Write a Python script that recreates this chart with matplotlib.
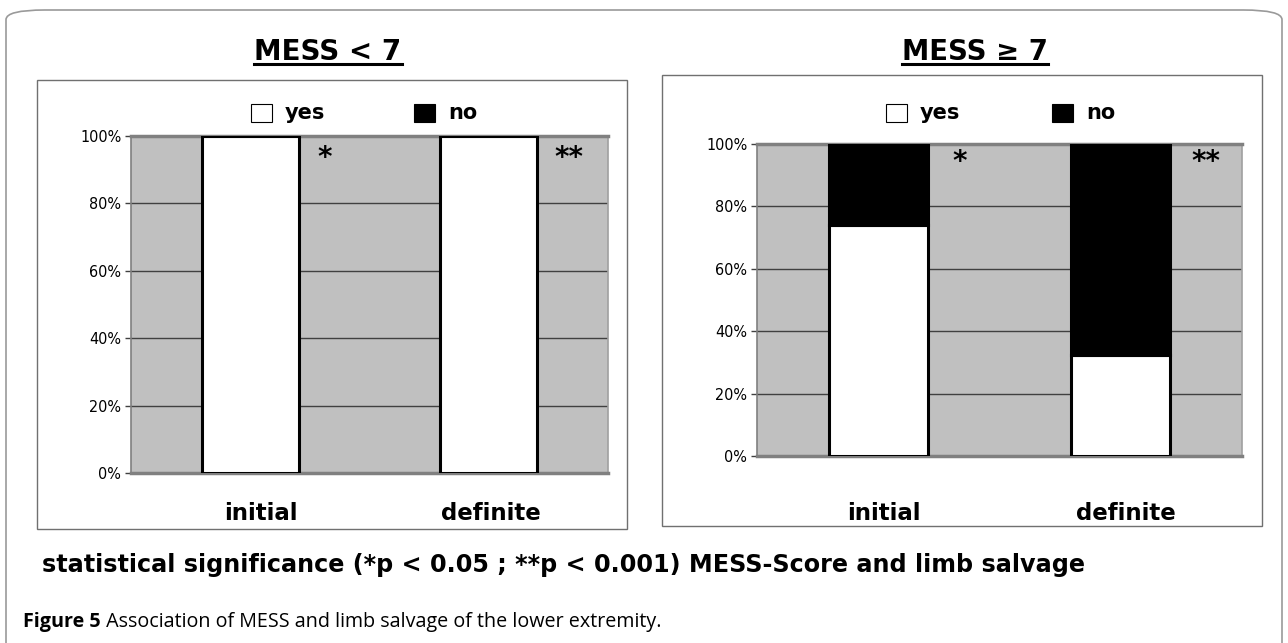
import matplotlib
matplotlib.use("Agg")
import matplotlib.pyplot as plt
from matplotlib.patches import Rectangle, FancyBboxPatch
from matplotlib import font_manager, transforms
import numpy as np

# ---------------- data ----------------
categories = ["initial", "definite"]
yes_low = [100, 100]      # MESS < 7
no_low = [0, 0]
yes_high = [74, 32.5]     # MESS >= 7
no_high = [26, 67.5]
stars = ["*", "**"]
ytick_vals = [0, 20, 40, 60, 80, 100]
ytick_labels = ["0%", "20%", "40%", "60%", "80%", "100%"]
titles = ["MESS < 7", "MESS \u2265 7"]
legend_labels = ["yes", "no"]
legend_colors = ["white", "black"]
stat_text = "statistical significance (*p < 0.05 ; **p < 0.001) MESS-Score and limb salvage"
caption_bold = "Figure 5"
caption_rest = " Association of MESS and limb salvage of the lower extremity."

W, H = 1288, 643
fig = plt.figure(figsize=(W / 100, H / 100), dpi=100)
renderer = fig.canvas.get_renderer()

def fx(x):
    return x / W

def fy(y):
    return 1 - y / H

def rect(x0, y0, x1, y1):
    return [fx(x0), fy(y1), (x1 - x0) / W, (y1 - y0) / H]

def fit_width(t, target):
    w = t.get_window_extent(renderer=renderer).width
    t.set_fontsize(t.get_fontsize() * target / w)

names = {f.name for f in font_manager.fontManager.ttflist}
if "Liberation Sans Narrow" in names:
    tick_font = dict(fontfamily="Liberation Sans Narrow", fontsize=13)
else:
    tick_font = dict(fontfamily="DejaVu Sans", fontstretch="condensed", fontsize=11.5)
bold = dict(fontfamily=["DejaVu Sans"], fontweight="bold")

# outer rounded frame (open at bottom)
frame = FancyBboxPatch((fx(6), fy(700)), fx(1276), (700 - 10) / H,
                       boxstyle="round,pad=0,rounding_size=0.03",
                       transform=fig.transFigure, fill=False,
                       edgecolor="#9a9a9a", linewidth=1.2, mutation_aspect=H / W)
fig.add_artist(frame)

# panel boxes
for (x0, y0, x1, y1) in [(37, 80, 627, 529), (662, 75, 1262, 526)]:
    fig.add_artist(Rectangle((fx(x0), fy(y1)), (x1 - x0) / W, (y1 - y0) / H,
                             transform=fig.transFigure, fill=False,
                             edgecolor="#707070", linewidth=1.0))

panels = [
    dict(plot=(131, 136, 608, 473), yes=yes_low, no=no_low, title=titles[0],
         title_xy=(328, 52), title_w=147, legend_y=113, leg_x=(251, 414),
         star_x=[0.313, 0.337], star_y=93.6, lab_dx=[0.046, 0.01], bar_w=0.405),
    dict(plot=(757, 144, 1242, 456), yes=yes_high, no=no_high, title=titles[1],
         title_xy=(975, 52), title_w=146, legend_y=113, leg_x=(886, 1052),
         star_x=[0.337, 0.35], star_y=94.2, lab_dx=[0.025, 0.02], bar_w=0.407),
]
label_y = 513

x = np.arange(len(categories))
for p in panels:
    ax = fig.add_axes(rect(*p["plot"]))
    ax.set_facecolor("#c0c0c0")
    ax.set_xlim(-0.5, 1.5)
    ax.set_ylim(0, 100)
    ax.set_yticks(ytick_vals)
    ax.set_yticklabels(ytick_labels, **tick_font)
    ax.yaxis.grid(True, color="#404040", linewidth=1.0)
    ax.set_axisbelow(True)
    ax.set_xticks([])
    ax.tick_params(axis="y", length=4, width=1, color="#404040", pad=3)
    for side in ["top", "bottom"]:
        ax.spines[side].set_color("#808080")
        ax.spines[side].set_linewidth(2.5)
    ax.spines["left"].set_color("#808080")
    ax.spines["left"].set_linewidth(1.2)
    ax.spines["right"].set_color("#a0a0a0")
    ax.spines["right"].set_linewidth(1.2)
    ax.bar(x, p["yes"], width=p["bar_w"], color="white", edgecolor="black",
           linewidth=2.2, zorder=3)
    ax.bar(x, p["no"], width=p["bar_w"], bottom=p["yes"], color="black",
           edgecolor="black", linewidth=2.2, zorder=3)
    for i, s in enumerate(stars):
        ax.text(x[i] + p["star_x"][i], p["star_y"], s, ha="center", va="center",
                fontsize=20, zorder=4, **bold)
    # category labels at a fixed figure height
    trans = transforms.blended_transform_factory(ax.transData, fig.transFigure)
    for i, c in enumerate(categories):
        ax.text(x[i] + p["lab_dx"][i], fy(label_y), c, transform=trans, ha="center",
                va="center", fontsize=16.5, clip_on=False, **bold)
    # title with underline
    tx, ty = p["title_xy"]
    t = fig.text(fx(tx), fy(ty), p["title"], ha="center", va="center",
                 fontsize=20, **bold)
    fit_width(t, p["title_w"])
    bb = t.get_window_extent(renderer=renderer)
    fig.add_artist(plt.Line2D([bb.x0 / W, bb.x1 / W], [fy(64), fy(64)],
                              transform=fig.transFigure, color="black", linewidth=2.2))
    # legend
    ly = p["legend_y"]
    for col, lab, lx in zip(legend_colors, legend_labels, p["leg_x"]):
        fig.add_artist(Rectangle((fx(lx), fy(ly + 9)), 21 / W, 18 / H,
                                 transform=fig.transFigure,
                                 facecolor=col, edgecolor="black", linewidth=0.8))
        fig.text(fx(lx + 34), fy(ly), lab, ha="left", va="center", fontsize=15, **bold)

# statistical significance line
st = fig.text(fx(42), fy(565), stat_text, ha="left", va="center", fontsize=17, **bold)
fit_width(st, 1046)

# caption
cap_font = ["Open Sans", "DejaVu Sans"]
cb = fig.text(fx(23), fy(622), caption_bold, ha="left", va="center", fontsize=13,
              fontweight="bold", fontfamily=cap_font)
cr = fig.text(0, fy(622), caption_rest, ha="left", va="center", fontsize=13,
              fontfamily=cap_font)
wb = cb.get_window_extent(renderer=renderer).width
wr = cr.get_window_extent(renderer=renderer).width
scale = 637 / (wb + wr)
cb.set_fontsize(13 * scale)
cr.set_fontsize(13 * scale)
bb = cb.get_window_extent(renderer=renderer)
cr.set_x(bb.x1 / W)

fig.savefig("out.png", dpi=100, facecolor="white")
